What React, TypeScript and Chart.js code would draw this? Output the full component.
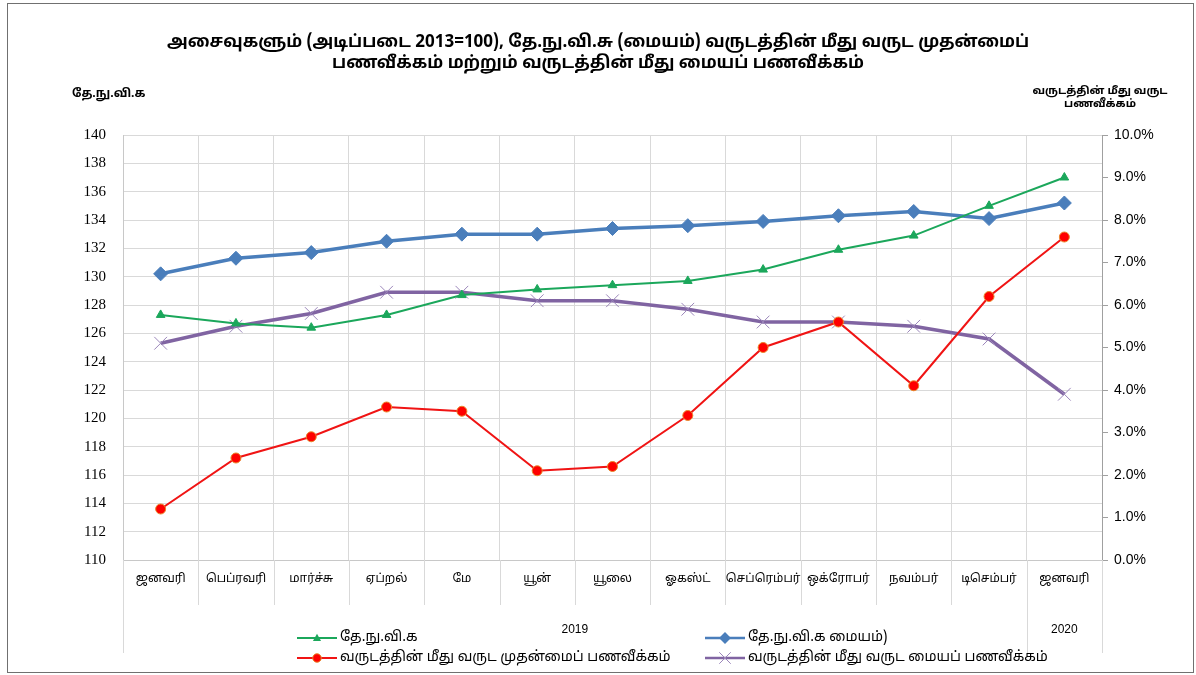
import React, { useEffect, useRef } from "react";
import { Chart, registerables } from "chart.js";
Chart.register(...registerables);

const months = ["ஜனவரி", "பெப்ரவரி", "மார்ச்சு", "ஏப்றல்", "மே", "யூன்", "யூலை", "ஓகஸ்ட்", "செப்ரெம்பர்", "ஒக்ரோபர்", "நவம்பர்", "டிசெம்பர்", "ஜனவரி"];
const years = ["2019", "2020"];
const yearSpans = [12, 1];

const ccpi = [127.3, 126.7, 126.4, 127.3, 128.7, 129.1, 129.4, 129.7, 130.5, 131.9, 132.9, 135.0, 137.0];
const ccpiCore = [130.2, 131.3, 131.7, 132.5, 133.0, 133.0, 133.4, 133.6, 133.9, 134.3, 134.6, 134.1, 135.2];
const headlineInfl = [1.2, 2.4, 2.9, 3.6, 3.5, 2.1, 2.2, 3.4, 5.0, 5.6, 4.1, 6.2, 7.6];
const coreInfl = [5.1, 5.5, 5.8, 6.3, 6.3, 6.1, 6.1, 5.9, 5.6, 5.6, 5.5, 5.2, 3.9];

const seriesNames = ["தே.நு.வி.க", "தே.நு.வி.க மையம்)", "வருடத்தின் மீது வருட முதன்மைப் பணவீக்கம்", "வருடத்தின் மீது வருட மையப் பணவீக்கம்"];

const titleLines = ["அசைவுகளும் (அடிப்படை 2013=100), தே.நு.வி.சு (மையம்) வருடத்தின் மீது வருட முதன்மைப்", "பணவீக்கம் மற்றும் வருடத்தின் மீது மையப் பணவீக்கம்"];
const leftAxisTitle = "தே.நு.வி.க";
const rightAxisTitle = ["வருடத்தின் மீது வருட", "பணவீக்கம்"];

const TAMIL = "'Liberation Sans Narrow', 'Noto Sans Tamil', 'Lohit Tamil', 'Liberation Sans', sans-serif";

function drawMarker(ctx: CanvasRenderingContext2D, style: string, cx: number, cy: number, r: number) {
  ctx.beginPath();
  if (style === "triangle") {
    ctx.moveTo(cx, cy - r);
    ctx.lineTo(cx + r * 0.95, cy + r * 0.7);
    ctx.lineTo(cx - r * 0.95, cy + r * 0.7);
    ctx.closePath();
    ctx.fill();
  } else if (style === "rectRot") {
    ctx.moveTo(cx, cy - r);
    ctx.lineTo(cx + r, cy);
    ctx.lineTo(cx, cy + r);
    ctx.lineTo(cx - r, cy);
    ctx.closePath();
    ctx.fill();
  } else if (style === "circle") {
    ctx.arc(cx, cy, r, 0, Math.PI * 2);
    ctx.fill();
    ctx.stroke();
  } else {
    const d = r * 0.75;
    ctx.moveTo(cx - d, cy - d);
    ctx.lineTo(cx + d, cy + d);
    ctx.moveTo(cx + d, cy - d);
    ctx.lineTo(cx - d, cy + d);
    ctx.stroke();
  }
}

const decorPlugin = {
  id: "decor",
  afterDraw(chart: any) {
    const ctx = chart.ctx;
    const x = chart.scales.x;
    const area = chart.chartArea;
    ctx.save();
    // frame
    ctx.strokeStyle = "#707070";
    ctx.lineWidth = 1;
    ctx.strokeRect(7.5, 3.5, 1186, 669);
    // title
    ctx.fillStyle = "#000";
    ctx.textAlign = "center";
    ctx.textBaseline = "middle";
    ctx.font = "bold 17px " + TAMIL;
    ctx.fillText(titleLines[0], 598, 44);
    ctx.fillText(titleLines[1], 598, 65);
    ctx.font = "bold 12px " + TAMIL;
    ctx.textAlign = "left";
    ctx.fillText(leftAxisTitle, 72, 95);
    ctx.textAlign = "center";
    ctx.font = "bold 11px " + TAMIL;
    ctx.fillText(rightAxisTitle[0], 1100, 92);
    ctx.fillText(rightAxisTitle[1], 1100, 105);
    // category boundary extensions
    const half = (x.getPixelForValue(1) - x.getPixelForValue(0)) / 2;
    ctx.strokeStyle = "#d9d9d9";
    let groupStart = 0;
    const groupEdges = new Set<number>([0]);
    yearSpans.forEach((s) => { groupStart += s; groupEdges.add(groupStart); });
    for (let i = 0; i <= months.length; i++) {
      const px = Math.round(x.getPixelForValue(i) - half) + 0.5;
      ctx.beginPath();
      ctx.moveTo(px, area.bottom);
      ctx.lineTo(px, groupEdges.has(i) ? 653 : 605);
      ctx.stroke();
    }
    // year labels
    ctx.font = "12px 'Liberation Sans Narrow', 'Liberation Sans', sans-serif";
    ctx.fillStyle = "#000";
    let start = 0;
    years.forEach((yr, k) => {
      const a = x.getPixelForValue(start) - half;
      const b = x.getPixelForValue(start + yearSpans[k] - 1) + half;
      ctx.fillText(yr, (a + b) / 2, 630);
      start += yearSpans[k];
    });
    // legend
    const pos = [[297, 638], [705, 638], [297, 658], [705, 658]];
    chart.data.datasets.forEach((ds: any, i: number) => {
      const [lx, ly] = pos[i];
      ctx.strokeStyle = ds.borderColor;
      ctx.lineWidth = Math.min(ds.borderWidth, 2.5);
      ctx.beginPath();
      ctx.moveTo(lx, ly);
      ctx.lineTo(lx + 40, ly);
      ctx.stroke();
      ctx.fillStyle = ds.pointBackgroundColor;
      ctx.strokeStyle = ds.pointBorderColor;
      ctx.lineWidth = ds.pointBorderWidth;
      drawMarker(ctx, ds.pointStyle, lx + 20, ly, ds.pointRadius * 0.85);
      ctx.fillStyle = "#000";
      ctx.textAlign = "left";
      ctx.font = "14px " + TAMIL;
      ctx.fillText(seriesNames[i], lx + 43, ly);
    });
    ctx.restore();
  },
};

export default function App() {
  const ref = useRef<HTMLCanvasElement>(null);
  useEffect(() => {
    document.body.style.margin = "0";
    const chart = new Chart(ref.current!, {
      type: "line",
      data: {
        labels: months,
        datasets: [
          {
            label: seriesNames[0], data: ccpi, yAxisID: "y",
            borderColor: "#1BA75B", backgroundColor: "#1BA75B", borderWidth: 2,
            pointStyle: "triangle", pointRadius: 5, pointBackgroundColor: "#1BA75B", pointBorderColor: "#1BA75B", pointBorderWidth: 1,
          },
          {
            label: seriesNames[1], data: ccpiCore, yAxisID: "y",
            borderColor: "#4A7EBB", backgroundColor: "#4A7EBB", borderWidth: 3.5,
            pointStyle: "rectRot", pointRadius: 7, pointBackgroundColor: "#4A7EBB", pointBorderColor: "#4A7EBB", pointBorderWidth: 1,
          },
          {
            label: seriesNames[2], data: headlineInfl, yAxisID: "y1",
            borderColor: "#F01414", backgroundColor: "#FF0000", borderWidth: 2,
            pointStyle: "circle", pointRadius: 5, pointBackgroundColor: "#FF0000", pointBorderColor: "#E8862A", pointBorderWidth: 1,
          },
          {
            label: seriesNames[3], data: coreInfl, yAxisID: "y1",
            borderColor: "#8064A2", backgroundColor: "#8064A2", borderWidth: 3.5,
            pointStyle: "crossRot", pointRadius: 9, pointBackgroundColor: "#9B86BA", pointBorderColor: "#9B86BA", pointBorderWidth: 1,
          },
        ],
      },
      options: {
        animation: false,
        responsive: false,
        maintainAspectRatio: false,
        layout: { padding: { top: 135, left: 0, right: 0, bottom: 0 } },
        plugins: { legend: { display: false }, title: { display: false }, tooltip: { enabled: false } },
        elements: { line: { tension: 0 } },
        scales: {
          x: {
            type: "category",
            offset: true,
            grid: { offset: true, color: "#d9d9d9", drawTicks: false },
            border: { color: "#c8c8c8" },
            ticks: { color: "#000", padding: 12, autoSkip: false, maxRotation: 0, font: { size: 12, family: TAMIL } },
            afterFit: (s: any) => { s.height = 115; },
          },
          y: {
            position: "left",
            min: 110, max: 140,
            ticks: { stepSize: 2, color: "#000", padding: 17, font: { size: 15, family: "'Liberation Serif', 'Times New Roman', 'DejaVu Serif', serif" } },
            grid: { color: "#d9d9d9", drawTicks: false },
            border: { color: "#c8c8c8" },
            afterFit: (s: any) => { s.width = 123; },
          },
          y1: {
            position: "right",
            min: 0, max: 10,
            ticks: { stepSize: 1, color: "#000", padding: 6, callback: (v: any) => Number(v).toFixed(1) + "%", font: { size: 14, family: "'Liberation Sans', Arial, sans-serif" } },
            grid: { drawOnChartArea: false, color: "#a0a0a0", tickLength: 6 },
            border: { color: "#a0a0a0" },
            afterFit: (s: any) => { s.width = 94; },
          },
        },
      },
      plugins: [decorPlugin],
    });
    return () => chart.destroy();
  }, []);
  return (
    <div style={{ width: 1196, height: 675 }}>
      <canvas ref={ref} width={1196} height={675} style={{ width: 1196, height: 675, display: "block" }} />
    </div>
  );
}
